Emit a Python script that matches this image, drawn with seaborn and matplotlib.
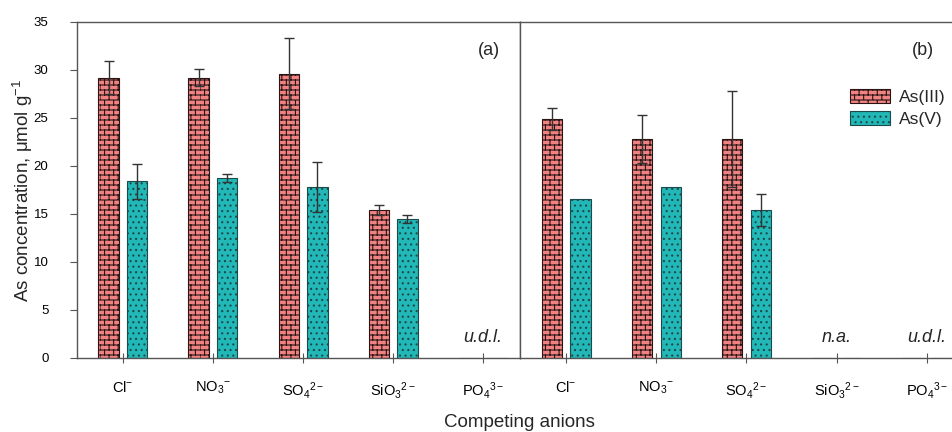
import warnings
import numpy as np
import pandas as pd
import matplotlib
matplotlib.use("Agg")
import matplotlib.pyplot as plt
import matplotlib.hatch as mhatch
from matplotlib.path import Path
import seaborn as sns

warnings.filterwarnings("ignore")

# ---- data ----
anions = ["Cl", "NO3", "SO4", "SiO3", "PO4"]
anion_labels = [r"Cl$^{-}$", r"NO$_{3}$$^{-}$", r"SO$_{4}$$^{2-}$",
                r"SiO$_{3}$$^{2-}$", r"PO$_{4}$$^{3-}$"]
species = ["As(III)", "As(V)"]

# panel (a)
a_as3 = [29.2, 29.2, 29.6, 15.4, 0.0]
a_as3_err = [1.7, 0.9, 3.7, 0.5, np.nan]
a_as5 = [18.4, 18.75, 17.8, 14.5, 0.0]
a_as5_err = [1.8, 0.45, 2.6, 0.4, np.nan]
a_notes = {"PO4": "u.d.l."}

# panel (b)
b_as3 = [24.9, 22.8, 22.8, 0.0, 0.0]
b_as3_err = [1.15, 2.5, 5.0, np.nan, np.nan]
b_as5 = [16.6, 17.8, 15.4, 0.0, 0.0]
b_as5_err = [np.nan, np.nan, 1.7, np.nan, np.nan]
b_notes = {"SiO3": "n.a.", "PO4": "u.d.l."}

colors = {"As(III)": "#f08282", "As(V)": "#22b8b8"}
edges = {"As(III)": "#2a1414", "As(V)": "#1d4a4a"}
hatches = {"As(III)": "b", "As(V)": "..."}


# brick hatch ('b'), not shipped with matplotlib
class BrickHatch(mhatch.HatchPatternBase):
    def __init__(self, hatch, density):
        on = hatch.count("b") > 0
        self.rows = 20 if on else 0
        self.cols = 11
        self.num_vertices = (2 * (self.rows + 1) + 2 * self.rows * self.cols) if on else 0

    def set_vertices_and_codes(self, vertices, codes):
        k = 0
        for i in range(self.rows + 1):
            y = i / self.rows
            vertices[k] = (0, y)
            vertices[k + 1] = (1, y)
            k += 2
        for i in range(self.rows):
            y0, y1 = i / self.rows, (i + 1) / self.rows
            off = 0.5 * (i % 2)
            for j in range(self.cols):
                x = (j + off) / self.cols
                vertices[k] = (x, y0)
                vertices[k + 1] = (x, y1)
                k += 2
        codes[0::2] = Path.MOVETO
        codes[1::2] = Path.LINETO


mhatch._hatch_types.append(BrickHatch)

sns.set_style("ticks")
plt.rcParams["font.family"] = ["Liberation Sans", "DejaVu Sans"]
plt.rcParams["mathtext.fontset"] = "custom"
plt.rcParams["mathtext.rm"] = "Liberation Sans"
plt.rcParams["mathtext.it"] = "Liberation Sans:italic"
plt.rcParams["hatch.linewidth"] = 0.8
plt.rcParams["axes.edgecolor"] = "#555555"
plt.rcParams["xtick.color"] = "#555555"
plt.rcParams["ytick.color"] = "#555555"
plt.rcParams["xtick.labelcolor"] = "black"
plt.rcParams["ytick.labelcolor"] = "black"


def make_df(as3, as5):
    return pd.DataFrame({
        "anion": anions * 2,
        "species": [species[0]] * len(anions) + [species[1]] * len(anions),
        "value": as3 + as5,
    })


fig = plt.figure(figsize=(9.53, 4.32), dpi=100)
ax_a = fig.add_axes([0.0808, 0.1713, 0.4649, 0.7778])
ax_b = fig.add_axes([0.5457, 0.1713, 0.4543, 0.7778], sharey=ax_a)

panels = [
    (ax_a, make_df(a_as3, a_as5), [a_as3_err, a_as5_err], a_notes, "(a)", (-0.51, 4.41)),
    (ax_b, make_df(b_as3, b_as5), [b_as3_err, b_as5_err], b_notes, "(b)", (-0.51, 4.29)),
]

for ax, df, errs, notes, tag, xlim in panels:
    sns.barplot(data=df, x="anion", y="value", hue="species", order=anions,
                hue_order=species, palette=colors, saturation=1, width=0.64,
                gap=0.3, errorbar=None, linewidth=0.8, legend=False, ax=ax)
    for cont, sp, err in zip(ax.containers, species, errs):
        for bar in cont:
            bar.set_edgecolor(edges[sp])
            bar.set_hatch(hatches[sp])
        xs = np.array([b.get_x() + b.get_width() / 2 for b in cont])
        ys = np.array([b.get_height() for b in cont])
        e = np.array(err, dtype=float)
        m = ~np.isnan(e)
        ax.errorbar(xs[m], ys[m], yerr=e[m], fmt="none", ecolor="#333333",
                    elinewidth=1, capsize=3.6, capthick=1, zorder=5)
    for key, txt in notes.items():
        ax.text(anions.index(key), 1.2, txt, ha="center", va="bottom",
                fontsize=13, style="italic")
    ax.text(0.93, 0.915, tag, transform=ax.transAxes, ha="center",
            va="center", fontsize=13)
    ax.set_xlim(*xlim)
    ax.set_xticks(range(len(anions)))
    ax.set_xticklabels(anion_labels, fontsize=10.5)
    ax.tick_params(axis="x", direction="inout", length=7, width=0.8, pad=12)
    ax.set_xlabel("")
    ax.set_ylabel("")
    for s in ax.spines.values():
        s.set_linewidth(1.0)

ax_a.set_ylim(0, 35)
ax_a.set_yticks(range(0, 36, 5))
ax_a.tick_params(axis="y", direction="out", length=5, width=0.8, pad=15.5, labelsize=9.5)
ax_a.set_ylabel(r"As concentration, μmol g$^{-1}$", fontsize=13.5)
ax_a.yaxis.set_label_coords(-0.095, 0.5)
ax_b.tick_params(axis="y", left=False, labelleft=False)
ax_b.spines["right"].set_visible(False)

ax_b.legend(handles=ax_b.containers, labels=species, loc="upper left",
            bbox_to_anchor=(0.762, 0.80), frameon=False, fontsize=12.5,
            handlelength=2.3, handleheight=0.85, handletextpad=0.5,
            labelspacing=0.35, borderaxespad=0, borderpad=0)

fig.text(0.545, 0.023, "Competing anions", ha="center", va="center", fontsize=13.5)

fig.savefig("out.png", dpi=100)
